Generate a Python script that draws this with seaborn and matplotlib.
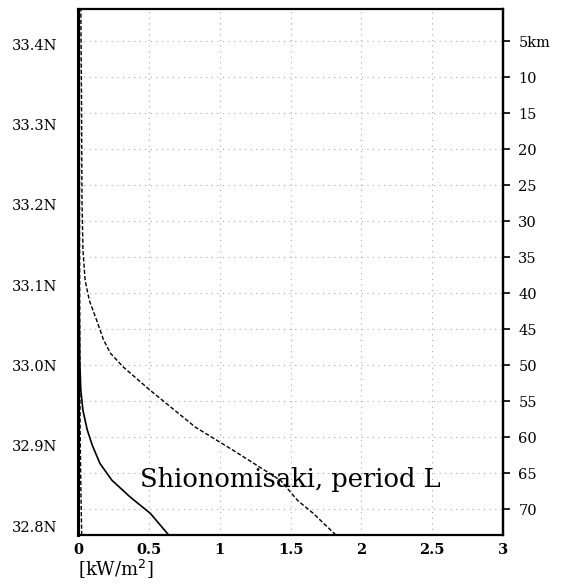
import matplotlib

matplotlib.use("Agg")

import matplotlib.pyplot as plt
import pandas as pd
import seaborn as sns

# latitude (deg N) and wave power (kW/m^2)
lat_dashed = [33.444, 33.330, 33.206, 33.144, 33.106, 33.081, 33.057, 33.032,
              33.015, 32.998, 32.969, 32.923, 32.895, 32.857, 32.832, 32.816, 32.789]
pow_dashed = [0.020, 0.025, 0.028, 0.035, 0.050, 0.080, 0.130, 0.180,
              0.230, 0.320, 0.510, 0.830, 1.090, 1.430, 1.550, 1.660, 1.820]

lat_solid = [33.444, 33.210, 33.080, 33.007, 32.969, 32.944, 32.920, 32.901,
             32.878, 32.857, 32.836, 32.816, 32.789]
pow_solid = [0.004, 0.005, 0.008, 0.012, 0.020, 0.035, 0.065, 0.100,
             0.155, 0.240, 0.370, 0.510, 0.640]

lat_base = [33.444, 33.200, 33.000, 32.920, 32.850, 32.789]
pow_base = [0.010, 0.011, 0.013, 0.015, 0.020, 0.026]

lat_ticks = [32.8, 32.9, 33.0, 33.1, 33.2, 33.3, 33.4]
lat_labels = ["32.8N", "32.9N", "33.0N", "33.1N", "33.2N", "33.3N", "33.4N"]
km_ticks = [5, 10, 15, 20, 25, 30, 35, 40, 45, 50, 55, 60, 65, 70]
x_ticks = [0, 0.5, 1, 1.5, 2, 2.5, 3]
x_labels = ["0", "0.5", "1", "1.5", "2", "2.5", "3"]

LAT0 = 33.4486   # latitude of 0 km
KM_PER_DEG = 111.5


def lat2km(lat):
    return (LAT0 - lat) * KM_PER_DEG


def km2lat(km):
    return LAT0 - km / KM_PER_DEG


def main():
    sns.set_theme(style="white")
    plt.rcParams["font.family"] = ["DejaVu Serif"]
    plt.rcParams["text.color"] = "black"
    plt.rcParams["xtick.color"] = "black"
    plt.rcParams["ytick.color"] = "black"

    fig = plt.figure(figsize=(5.63, 5.85), dpi=100)
    ax = fig.add_axes([78 / 563, 1 - 535 / 585, 425 / 563, 526 / 585])

    dashed = pd.DataFrame({"lat": lat_dashed, "power": pow_dashed})
    solid = pd.DataFrame({"lat": lat_solid, "power": pow_solid})
    base = pd.DataFrame({"lat": lat_base, "power": pow_base})

    sns.lineplot(data=solid, x="power", y="lat", orient="y", color="black",
                 linewidth=1.2, ax=ax)
    sns.lineplot(data=dashed, x="power", y="lat", orient="y", color="black",
                 linewidth=1.0, linestyle=(0, (3, 1.5)), ax=ax)
    sns.lineplot(data=base, x="power", y="lat", orient="y", color="black",
                 linewidth=1.0, linestyle=(0, (3, 1.5)), ax=ax)

    ax.set_xlim(0, 3)
    ax.set_ylim(32.789, 33.4436)

    ax.set_xticks(x_ticks)
    ax.set_xticklabels(x_labels, fontweight="bold", fontsize=10.5)
    ax.set_yticks(lat_ticks)
    ax.set_yticklabels(lat_labels, fontsize=10.5)
    ax.set_yticks([km2lat(k) for k in km_ticks], minor=True)
    ax.tick_params(axis="y", which="major", direction="out", length=5,
                   width=1.2, color="black", labelcolor="black", pad=10)
    ax.tick_params(axis="y", which="minor", length=0)
    ax.tick_params(axis="x", which="major", direction="out", length=3,
                   width=1.2, color="black", labelcolor="black", pad=3)

    ax.grid(False)
    ax.grid(axis="x", which="major", color="#aaaaaa", linestyle=(0, (1, 4)),
            linewidth=0.8)
    ax.grid(axis="y", which="minor", color="#aaaaaa", linestyle=(0, (1, 4)),
            linewidth=0.8)
    ax.set_xlabel("")
    ax.set_ylabel("")

    for sp in ax.spines.values():
        sp.set_color("black")
        sp.set_linewidth(1.6)
    ax.spines["left"].set_linewidth(2.2)

    sec = ax.secondary_yaxis("right", functions=(lat2km, km2lat))
    sec.set_yticks(km_ticks)
    sec.set_yticklabels([f"{k}km" if k == 5 else str(k) for k in km_ticks],
                        fontsize=10.5)
    sec.tick_params(direction="out", length=5, width=1.2, color="black",
                    labelcolor="black", pad=6)
    sec.spines["right"].set_linewidth(1.6)
    sec.spines["right"].set_color("black")

    ax.text(0.5, 0.105, "Shionomisaki, period L", transform=ax.transAxes,
            ha="center", va="center", fontsize=18.5, color="black")
    ax.text(0.0, -0.044, "[kW/m$^2$]", transform=ax.transAxes, ha="left",
            va="top", fontsize=13, color="black")

    fig.savefig("out.png", dpi=100)
    plt.close(fig)


if __name__ == "__main__":
    main()
